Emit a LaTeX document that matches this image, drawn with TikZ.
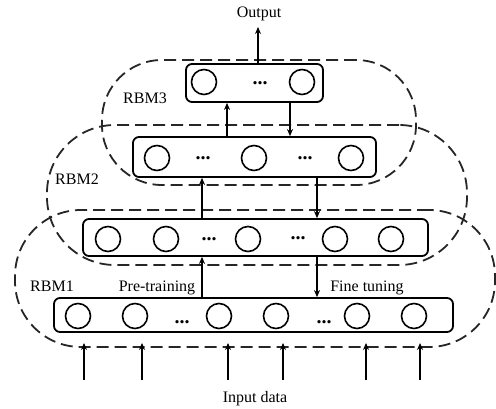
\documentclass[tikz,border=0pt]{standalone}
\usepackage{fontspec}
\setmainfont{Liberation Serif}
\usetikzlibrary{arrows.meta}
\tikzset{
  layer/.style={draw,line width=1.8pt,rounded corners=6pt,fill=white,inner sep=0pt},
  unit/.style={draw,circle,line width=1.6pt,minimum size=25pt,inner sep=0pt},
  dots/.style={inner sep=0pt,font=\fontsize{20}{24}\selectfont\bfseries},
  rbm/.style={draw=black!85,line width=1.8pt,dash pattern=on 12pt off 6pt,inner sep=0pt},
  lbl/.style={inner sep=0pt,anchor=base,font=\fontsize{16}{19}\selectfont},
  flow/.style={-{Stealth[length=7pt,width=6pt]},line width=1.3pt}
}
\begin{document}
\begin{tikzpicture}[x=1pt,y=-1pt]
      \useasboundingbox (0,0) rectangle (496,409);
      % dashed RBM groups
      \node[rbm,minimum width=314pt,minimum height=125pt,rounded corners=60pt] (rbm3) at (259,122.5) {};
      \node[rbm,minimum width=420pt,minimum height=140pt,rounded corners=68pt] (rbm2) at (257,195) {};
      \node[rbm,minimum width=480pt,minimum height=137pt,rounded corners=66pt] (rbm1) at (255,278.5) {};
      % layers
      \node[layer,minimum width=137pt,minimum height=38pt] (b3) at (254.5,83) {};
      \node[layer,minimum width=243pt,minimum height=40pt] (b2) at (254.5,157) {};
      \node[layer,minimum width=345pt,minimum height=37pt] (b1) at (255.5,237.5) {};
      \node[layer,minimum width=399pt,minimum height=34pt] (b0) at (253.5,315) {};
      % units
      \draw
        (204,82) node[unit] (b3u1){}
        (302,82) node[unit] (b3u2){}
        (157,158) node[unit] (b2u1){}
        (254,158) node[unit] (b2u2){}
        (351,158) node[unit] (b2u3){}
        (108,239) node[unit] (b1u1){}
        (166,239) node[unit] (b1u2){}
        (248,239) node[unit] (b1u3){}
        (335,239) node[unit] (b1u4){}
        (391,239) node[unit] (b1u5){}
        (78,316) node[unit] (b0u1){}
        (135,316) node[unit] (b0u2){}
        (219,316) node[unit] (b0u3){}
        (276,316) node[unit] (b0u4){}
        (357,316) node[unit] (b0u5){}
        (414,316) node[unit] (b0u6){};
      \draw
        (260,83) node[dots] (b3d1){...}
        (203,158) node[dots] (b2d1){...}
        (305,158) node[dots] (b2d2){...}
        (209,239) node[dots] (b1d1){...}
        (298,238) node[dots] (b1d2){...}
        (182,322) node[dots] (b0d1){...}
        (324,322) node[dots] (b0d2){...};
      % columns for the connectors
      \coordinate (out) at (258,27);
      \coordinate (u23) at (227,0);
      \coordinate (d23) at (290,0);
      \coordinate (u12) at (202,0);
      \coordinate (d12) at (317,0);
      \coordinate (tip) at (0,343);
      \coordinate (in1) at (84,380);
      \coordinate (in2) at (142,380);
      \coordinate (in3) at (228,380);
      \coordinate (in4) at (283,380);
      \coordinate (in5) at (366,380);
      \coordinate (in6) at (420,380);
      \begin{scope}[flow]
        \draw (b3.north -| out) to (out);
        \draw (u23 |- b2.north) to (u23 |- b3.south);
        \draw (d23 |- b3.south) to (d23 |- b2.north);
        \draw (u12 |- b1.north) to (u12 |- b2.south);
        \draw (d12 |- b2.south) to (d12 |- b1.north);
        \draw (u12 |- b0.north) to (u12 |- b1.south);
        \draw (d12 |- b1.south) to (d12 |- b0.north);
        \draw (in1) to (in1 |- tip);
        \draw (in2) to (in2 |- tip);
        \draw (in3) to (in3 |- tip);
        \draw (in4) to (in4 |- tip);
        \draw (in5) to (in5 |- tip);
        \draw (in6) to (in6 |- tip);
      \end{scope}
      % labels
      \node[lbl] (outlbl) at (259,18) {Output};
      \node[lbl] (inlbl) at (255,402) {Input data};
      \node[lbl] (rbm3lbl) at (145,104) {RBM3};
      \node[lbl] (rbm2lbl) at (77,185) {RBM2};
      \node[lbl] (rbm1lbl) at (52,291) {RBM1};
      \node[lbl] (pretr) at (157,291) {Pre-training};
      \node[lbl] (fine) at (367,291) {Fine tuning};
    \end{tikzpicture}
\end{document}
